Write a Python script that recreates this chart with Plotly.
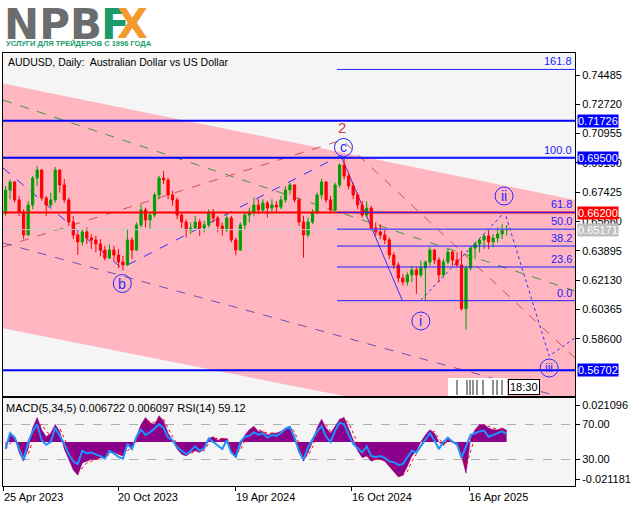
import plotly.graph_objects as go
import pandas as pd

W, H = 639, 508


def px(x):
    return x / W


def py(y):
    return 1 - y / H


# ---------------- data (weekly OHLC) ----------------
opens = [0.6615, 0.6755, 0.6804, 0.6696, 0.6623, 0.6485, 0.6665, 0.6828, 0.6876, 0.6708,
         0.6665, 0.6696, 0.6876, 0.6786, 0.6696, 0.6563, 0.6485, 0.6443, 0.6503, 0.6467,
         0.6455, 0.6431, 0.6394, 0.6346, 0.6394, 0.6364, 0.6322, 0.6304, 0.6455, 0.6394,
         0.6545, 0.6635, 0.6575, 0.6605, 0.6726, 0.6828, 0.6816, 0.6726, 0.6696, 0.6605,
         0.6563, 0.6515, 0.6527, 0.6563, 0.6527, 0.6545, 0.6623, 0.6587, 0.6539, 0.6515,
         0.6587, 0.6455, 0.6394, 0.6545, 0.6605, 0.6623, 0.6665, 0.6635, 0.6677, 0.6647,
         0.6665, 0.6653, 0.6696, 0.6756, 0.6786, 0.6696, 0.6563, 0.6485, 0.6563, 0.6623,
         0.6726, 0.6804, 0.6696, 0.6635, 0.6786, 0.6906, 0.6840, 0.6780, 0.6726, 0.6665,
         0.6605, 0.6647, 0.6527, 0.6503, 0.6485, 0.6455, 0.6364, 0.6304, 0.6226, 0.6202,
         0.6244, 0.6274, 0.6244, 0.6286, 0.6322, 0.6394, 0.6334, 0.6244, 0.6322, 0.6382,
         0.6334, 0.6304, 0.6040, 0.6286, 0.6406, 0.6431, 0.6455, 0.6479, 0.6443, 0.6467,
         0.6491, 0.6515]
highs = [0.6780, 0.6818, 0.6810, 0.6720, 0.6640, 0.6690, 0.6840, 0.6900, 0.6880, 0.6720,
         0.6740, 0.6895, 0.6880, 0.6822, 0.6710, 0.6600, 0.6500, 0.6520, 0.6530, 0.6490,
         0.6480, 0.6460, 0.6420, 0.6430, 0.6420, 0.6400, 0.6360, 0.6520, 0.6470, 0.6560,
         0.6670, 0.6650, 0.6620, 0.6740, 0.6840, 0.6871, 0.6830, 0.6750, 0.6710, 0.6620,
         0.6580, 0.6560, 0.6600, 0.6580, 0.6570, 0.6640, 0.6640, 0.6600, 0.6560, 0.6620,
         0.6600, 0.6470, 0.6560, 0.6620, 0.6650, 0.6710, 0.6700, 0.6700, 0.6690, 0.6700,
         0.6690, 0.6720, 0.6780, 0.6799, 0.6790, 0.6710, 0.6600, 0.6590, 0.6640, 0.6740,
         0.6824, 0.6810, 0.6720, 0.6800, 0.6915, 0.6942, 0.6860, 0.6800, 0.6740, 0.6690,
         0.6688, 0.6660, 0.6560, 0.6550, 0.6520, 0.6470, 0.6380, 0.6320, 0.6250, 0.6260,
         0.6300, 0.6290, 0.6330, 0.6330, 0.6410, 0.6400, 0.6350, 0.6340, 0.6400, 0.6390,
         0.6380, 0.6390, 0.6300, 0.6410, 0.6440, 0.6460, 0.6490, 0.6515, 0.6490, 0.6530,
         0.6550, 0.6545]
lows = [0.6600, 0.6700, 0.6680, 0.6600, 0.6458, 0.6480, 0.6640, 0.6780, 0.6690, 0.6600,
        0.6650, 0.6680, 0.6740, 0.6680, 0.6540, 0.6460, 0.6365, 0.6420, 0.6430, 0.6400,
        0.6380, 0.6357, 0.6331, 0.6340, 0.6330, 0.6285, 0.6270, 0.6300, 0.6340, 0.6390,
        0.6530, 0.6530, 0.6525, 0.6590, 0.6700, 0.6790, 0.6700, 0.6660, 0.6580, 0.6525,
        0.6470, 0.6490, 0.6510, 0.6480, 0.6500, 0.6530, 0.6560, 0.6500, 0.6480, 0.6500,
        0.6440, 0.6362, 0.6390, 0.6520, 0.6560, 0.6600, 0.6610, 0.6620, 0.6590, 0.6620,
        0.6620, 0.6640, 0.6680, 0.6730, 0.6680, 0.6540, 0.6348, 0.6470, 0.6550, 0.6610,
        0.6700, 0.6680, 0.6620, 0.6630, 0.6770, 0.6820, 0.6760, 0.6700, 0.6640, 0.6590,
        0.6590, 0.6510, 0.6480, 0.6460, 0.6430, 0.6340, 0.6280, 0.6200, 0.6180, 0.6180,
        0.6200, 0.6130, 0.6230, 0.6088, 0.6300, 0.6310, 0.6200, 0.6230, 0.6310, 0.6300,
        0.6290, 0.6030, 0.5914, 0.6270, 0.6340, 0.6380, 0.6400, 0.6400, 0.6410, 0.6440,
        0.6460, 0.6480]
closes = [0.6755, 0.6804, 0.6696, 0.6623, 0.6485, 0.6665, 0.6828, 0.6876, 0.6708, 0.6665,
          0.6696, 0.6876, 0.6786, 0.6696, 0.6563, 0.6485, 0.6443, 0.6503, 0.6467, 0.6455,
          0.6431, 0.6394, 0.6346, 0.6394, 0.6364, 0.6322, 0.6304, 0.6455, 0.6394, 0.6545,
          0.6635, 0.6575, 0.6605, 0.6726, 0.6828, 0.6816, 0.6726, 0.6696, 0.6605, 0.6563,
          0.6515, 0.6527, 0.6563, 0.6527, 0.6545, 0.6623, 0.6587, 0.6539, 0.6515, 0.6587,
          0.6455, 0.6394, 0.6545, 0.6605, 0.6623, 0.6665, 0.6635, 0.6677, 0.6647, 0.6665,
          0.6653, 0.6696, 0.6756, 0.6786, 0.6696, 0.6563, 0.6485, 0.6563, 0.6623, 0.6726,
          0.6804, 0.6696, 0.6635, 0.6786, 0.6906, 0.6840, 0.6780, 0.6726, 0.6665, 0.6605,
          0.6647, 0.6527, 0.6503, 0.6485, 0.6455, 0.6364, 0.6304, 0.6226, 0.6202, 0.6244,
          0.6274, 0.6244, 0.6286, 0.6322, 0.6394, 0.6334, 0.6244, 0.6322, 0.6382, 0.6334,
          0.6304, 0.6040, 0.6286, 0.6406, 0.6431, 0.6455, 0.6479, 0.6443, 0.6467, 0.6491,
          0.6515, 0.6517]

macd_hist = [-0.003, 0.004, 0.003, -0.006, -0.011, -0.004, 0.008, 0.014, 0.007, 0.003,
             0.005, 0.010, 0.006, -0.004, -0.010, -0.016, -0.019, -0.012, -0.011, -0.010,
             -0.010, -0.009, -0.009, -0.006, -0.006, -0.007, -0.008, -0.002, -0.003, 0.003,
             0.010, 0.014, 0.011, 0.010, 0.015, 0.012, 0.005, 0.001, -0.004, -0.007,
             -0.008, -0.006, -0.005, -0.006, -0.004, 0.002, 0.003, 0.001, 0.002, 0.002,
             -0.005, -0.009, -0.002, 0.004, 0.007, 0.009, 0.006, 0.006, 0.004, 0.005,
             0.005, 0.006, 0.008, 0.009, 0.003, -0.006, -0.011, -0.006, 0.000, 0.008,
             0.013, 0.008, 0.005, 0.009, 0.013, 0.014, 0.008, 0.002, -0.005, -0.009,
             -0.008, -0.011, -0.010, -0.010, -0.011, -0.014, -0.017, -0.020, -0.019, -0.014,
             -0.008, -0.005, 0.000, 0.004, 0.007, 0.005, 0.000, -0.002, 0.002, 0.000,
             -0.002, -0.008, -0.018, 0.002, 0.007, 0.010, 0.010, 0.008, 0.007, 0.007,
             0.008, 0.006722]
macd_signal = [-0.004, -0.001, 0.002, -0.001, -0.006, -0.007, 0.000, 0.008, 0.010, 0.006,
               0.004, 0.007, 0.008, 0.002, -0.005, -0.011, -0.016, -0.015, -0.012, -0.011,
               -0.010, -0.009, -0.009, -0.007, -0.006, -0.007, -0.008, -0.005, -0.003, 0.000,
               0.006, 0.011, 0.012, 0.011, 0.013, 0.013, 0.008, 0.003, -0.001, -0.005,
               -0.007, -0.007, -0.005, -0.005, -0.005, -0.001, 0.002, 0.002, 0.002, 0.002,
               -0.001, -0.006, -0.005, 0.001, 0.005, 0.008, 0.007, 0.006, 0.005, 0.005,
               0.005, 0.005, 0.007, 0.008, 0.006, -0.001, -0.008, -0.008, -0.003, 0.004,
               0.010, 0.010, 0.006, 0.007, 0.011, 0.013, 0.011, 0.005, -0.001, -0.006,
               -0.008, -0.009, -0.010, -0.010, -0.010, -0.012, -0.015, -0.018, -0.019, -0.017,
               -0.011, -0.007, -0.002, 0.002, 0.005, 0.006, 0.002, -0.001, 0.000, 0.001,
               -0.001, -0.005, -0.014, -0.006, 0.003, 0.008, 0.010, 0.009, 0.008, 0.007,
               0.007, 0.006097]
rsi = [42, 60, 55, 42, 30, 50, 62, 70, 52, 47,
       50, 66, 57, 48, 36, 28, 25, 40, 37, 38,
       36, 34, 31, 40, 37, 33, 31, 48, 42, 56,
       64, 58, 61, 66, 70, 66, 55, 52, 44, 40,
       36, 40, 45, 40, 43, 54, 50, 45, 42, 52,
       38, 33, 50, 56, 57, 61, 58, 60, 55, 58,
       57, 60, 65, 67, 55, 40, 30, 44, 53, 62,
       68, 56, 50, 63, 72, 70, 58, 48, 43, 38,
       45, 34, 33, 34, 32, 28, 27, 24, 25, 33,
       40, 38, 45, 52, 60, 52, 42, 50, 55, 50,
       48, 32, 45, 58, 60, 62, 63, 56, 58, 60,
       62, 59.12]

week_end = pd.date_range("2023-04-28", periods=len(closes), freq="7D")

# axes
x_range = ["2023-04-24", "2025-09-27"]
y_range = [0.55148, 0.75810]
price_ticks = [0.74485, 0.72720, 0.70955, 0.69190, 0.67425, 0.65660,
               0.63895, 0.62130, 0.60365, 0.58600]
date_ticks = ["2023-04-25", "2023-10-20", "2024-04-19", "2024-10-16", "2025-04-16"]
date_labels = ["25 Apr 2023", "20 Oct 2023", "19 Apr 2024", "16 Oct 2024", "16 Apr 2025"]

# channel (pink)
channel_dates = ["2023-04-24", "2025-09-27"]
channel_upper = [0.7398, 0.6696]
channel_lower = [0.5923, 0.5238]

# analysis lines
trend_lines = [
    dict(d=["2023-04-24", "2025-09-27"], p=[0.72979, 0.61473], c="#3C9A3C", dash="dash"),
    dict(d=["2023-04-24", "2024-10-01", "2025-09-27"], p=[0.64124, 0.70569, 0.57437], c="#D05050", dash="dash"),
    dict(d=["2023-04-24", "2025-09-27"], p=[0.64365, 0.54847], c="#7050B0", dash="dash"),
    dict(d=["2023-04-24", "2023-10-25", "2024-09-30"], p=[0.68883, 0.62859, 0.69666], c="#3030FF", dash="dash"),
    dict(d=["2024-09-30", "2025-01-02"], p=[0.69545, 0.60931], c="#3030FF", dash="solid"),
    dict(d=["2025-01-31", "2025-06-10", "2025-08-18", "2025-09-27"], p=[0.60931, 0.66232, 0.57558, 0.58642], c="#3030FF", dash="dot"),
]

# horizontal levels
levels = [0.71726, 0.69500, 0.66200, 0.56702]
level_colors = ["#0000FF", "#0000FF", "#FF0000", "#0000FF"]
current_price = 0.65171

fib_pct = ["161.8", "100.0", "61.8", "50.0", "38.2", "23.6", "0.0"]
fib_levels = [0.7482, 0.6950, 0.6621, 0.6520, 0.6418, 0.6292, 0.6089]
fib_start = "2024-09-23"

wave_text = ["b", "c", "i", "ii", "iii"]
wave_dates = ["2023-10-26", "2024-10-03", "2025-01-31", "2025-06-09", "2025-08-18"]
wave_prices = [0.61925, 0.70118, 0.59666, 0.67196, 0.56835]

fig = go.Figure()

# base subplot: channel + analysis lines (drawn below candles)
fig.add_trace(go.Scatter(
    x=channel_dates + channel_dates[::-1],
    y=channel_upper + channel_lower[::-1],
    fill="toself", fillcolor="#FFB6C1", mode="lines", line=dict(width=0),
    hoverinfo="skip", showlegend=False, xaxis="x", yaxis="y"))

for tl in trend_lines:
    fig.add_trace(go.Scatter(x=tl["d"], y=tl["p"], mode="lines",
                             line=dict(color=tl["c"], width=1, dash=tl["dash"]),
                             hoverinfo="skip", showlegend=False, xaxis="x", yaxis="y"))

# candles on an overlaid subplot so they sit above the channel fill
fig.add_trace(go.Candlestick(
    x=week_end, open=opens, high=highs, low=lows, close=closes,
    increasing=dict(line=dict(color="#00A000", width=1), fillcolor="#00A000"),
    decreasing=dict(line=dict(color="#FF0000", width=1), fillcolor="#FF0000"),
    whiskerwidth=0, showlegend=False, xaxis="x3", yaxis="y4"))

# indicator panel
fig.add_trace(go.Scatter(x=week_end, y=macd_hist, mode="lines", fill="tozeroy",
                         fillcolor="#8B008B", line=dict(color="#8B008B", width=0.5),
                         showlegend=False, xaxis="x2", yaxis="y2"))
fig.add_trace(go.Scatter(x=week_end, y=macd_signal, mode="lines",
                         line=dict(color="#FF0000", width=1, dash="dot"),
                         showlegend=False, xaxis="x2", yaxis="y2"))
fig.add_trace(go.Scatter(x=week_end, y=rsi, mode="lines",
                         line=dict(color="#1E90FF", width=2),
                         showlegend=False, xaxis="x2", yaxis="y3"))

shapes = []
shapes.append(dict(type="line", xref="x domain", x0=0, x1=1, yref="y", y0=current_price, y1=current_price,
                   line=dict(color="#C8C8C8", width=1), layer="above"))
for lv, lc in zip(levels, level_colors):
    shapes.append(dict(type="line", xref="x domain", x0=0, x1=1, yref="y", y0=lv, y1=lv,
                       line=dict(color=lc, width=2), layer="above"))
for fl in fib_levels:
    shapes.append(dict(type="line", xref="x", x0=fib_start, x1=x_range[1], yref="y", y0=fl, y1=fl,
                       line=dict(color="#2020FF", width=1), layer="above"))
for wd, wp in zip(wave_dates, wave_prices):
    shapes.append(dict(type="circle", xref="x", yref="y", xsizemode="pixel", ysizemode="pixel",
                       xanchor=wd, yanchor=wp, x0=-9, x1=9, y0=-9, y1=9,
                       line=dict(color="#2828FF", width=1), layer="above"))

# time-left box decoration
shapes.append(dict(type="rect", xref="paper", yref="paper", x0=px(448), x1=px(507), y0=py(396), y1=py(378),
                   fillcolor="white", line=dict(width=0), layer="above"))
for bx in [457, 467, 470, 473, 477, 483, 493, 497, 502]:
    shapes.append(dict(type="line", xref="paper", yref="paper", x0=px(bx), x1=px(bx), y0=py(395), y1=py(380),
                       line=dict(color="#202020", width=1), layer="above"))

ann = []
font_main = "Liberation Sans"
# logo
ann.append(dict(text="<b>NPB</b>", x=px(2), y=py(24), xref="paper", yref="paper", xanchor="left", yanchor="middle",
                showarrow=False, font=dict(family="DejaVu Sans", size=42, color="#6B6C6E")))
ann.append(dict(text="<b>F</b>", x=px(99), y=py(24), xref="paper", yref="paper", xanchor="left", yanchor="middle",
                showarrow=False, font=dict(family="DejaVu Sans", size=42, color="#1A9B6C")))
ann.append(dict(text="<b>X</b>", x=px(115), y=py(24), xref="paper", yref="paper", xanchor="left", yanchor="middle",
                showarrow=False, font=dict(family="DejaVu Sans", size=40, color="#F39A2D")))
ann.append(dict(text="<b>УСЛУГИ ДЛЯ ТРЕЙДЕРОВ С 1996 ГОДА</b>", x=px(4), y=py(44), xref="paper", yref="paper",
                xanchor="left", yanchor="middle", showarrow=False,
                font=dict(family="Liberation Sans", size=7.5, color="#1A9B6C")))
# title
ann.append(dict(text="AUDUSD, Daily:  Australian Dollar vs US Dollar", x=px(6), y=py(62), xref="paper", yref="paper",
                xanchor="left", yanchor="middle", showarrow=False, font=dict(family=font_main, size=10.5, color="black")))
# price boxes
for val, bg in [(0.71726, "#0000FF"), (0.69500, "#0000FF"), (0.66200, "#FF0000"),
                (current_price, "#C0C0C0"), (0.56702, "#0000FF")]:
    ann.append(dict(text=f"{val:.5f}", x=px(577), y=val, xref="paper", yref="y", xanchor="left", yanchor="middle",
                    showarrow=False, bgcolor=bg, borderpad=0,
                    font=dict(family=font_main, size=11, color="white")))
# fib labels
for t, fl in zip(fib_pct, fib_levels):
    ann.append(dict(text=t, x=px(574), y=fl, xref="paper", yref="y", xanchor="right", yanchor="bottom",
                    showarrow=False, font=dict(family=font_main, size=11, color="#2020FF")))
# wave labels
for t, wd, wp in zip(wave_text, wave_dates, wave_prices):
    ann.append(dict(text=t, x=wd, y=wp, xref="x", yref="y", xanchor="center", yanchor="middle",
                    showarrow=False, font=dict(family=font_main, size=14 if len(t) < 3 else 12, color="#2828FF")))
ann.append(dict(text="2", x="2024-09-30", y=0.71323, xref="x", yref="y", xanchor="center", yanchor="middle",
                showarrow=False, font=dict(family=font_main, size=15, color="#C83C3C")))
# time-left label
ann.append(dict(text="18:30", x=px(508), y=py(387), xref="paper", yref="paper", xanchor="left", yanchor="middle",
                showarrow=False, bgcolor="white", bordercolor="black", borderwidth=1, borderpad=1,
                font=dict(family=font_main, size=11, color="black")))
# indicator label
ann.append(dict(text="MACD(5,34,5) 0.006722 0.006097 RSI(14) 59.12", x=px(4), y=py(408), xref="paper", yref="paper",
                xanchor="left", yanchor="middle", showarrow=False,
                font=dict(family=font_main, size=11, color="black")))
# date labels
for d, t in zip(date_ticks, date_labels):
    ann.append(dict(text=t, x=d, y=py(497), xref="x2", yref="paper", xanchor="left", yanchor="middle",
                    xshift=-2, showarrow=False, font=dict(family=font_main, size=11, color="black")))

axis_font = dict(family=font_main, size=11, color="black")
fig.update_layout(
    width=W, height=H, margin=dict(l=0, r=0, t=0, b=0),
    paper_bgcolor="white", plot_bgcolor="#F5F5F5",
    showlegend=False,
    xaxis=dict(domain=[px(3), px(575)], range=x_range, type="date", anchor="y",
               showticklabels=False, ticks="", showgrid=False, zeroline=False,
               showline=True, mirror=True, linecolor="black", linewidth=1,
               rangeslider=dict(visible=False)),
    yaxis=dict(domain=[py(396), py(53)], range=y_range, anchor="x", side="right",
               tickvals=price_ticks, ticktext=[f"{v:.5f}" for v in price_ticks],
               ticks="outside", ticklen=4, tickcolor="black", tickfont=axis_font,
               showgrid=False, zeroline=False, showline=True, mirror=True,
               linecolor="black", linewidth=1),
    xaxis3=dict(overlaying="x", range=x_range, type="date", anchor="y4", visible=False,
                showgrid=False, zeroline=False, rangeslider=dict(visible=False)),
    yaxis4=dict(overlaying="y", range=y_range, anchor="x3", visible=False,
                showgrid=False, zeroline=False),
    xaxis2=dict(domain=[px(3), px(575)], range=x_range, type="date", anchor="y2",
                tickvals=date_ticks, showticklabels=False, ticks="outside", ticklen=4,
                tickcolor="black", showgrid=False, zeroline=False,
                showline=True, mirror=True, linecolor="black", linewidth=1),
    yaxis2=dict(domain=[py(486), py(398)], range=[-0.02518, 0.02510], anchor="x2", side="right",
                tickvals=[0.021096, -0.021181], ticktext=["0.021096", "-0.021181"],
                ticks="outside", ticklen=4, tickcolor="black", tickfont=axis_font,
                showgrid=False, zeroline=False, showline=True, mirror=True,
                linecolor="black", linewidth=1),
    yaxis3=dict(range=[0, 100], overlaying="y2", anchor="x2", side="right",
                tickvals=[30, 70], ticktext=["30.00", "70.00"], ticks="outside", ticklen=4,
                tickcolor="black", tickfont=axis_font,
                showgrid=True, gridcolor="#B0B0B0", griddash="dash", gridwidth=1,
                zeroline=False, showline=False),
    shapes=shapes, annotations=ann,
)

fig.write_html("out.html", config={"displayModeBar": False},
               post_script="document.body.style.margin='0';document.body.style.overflow='hidden';")
